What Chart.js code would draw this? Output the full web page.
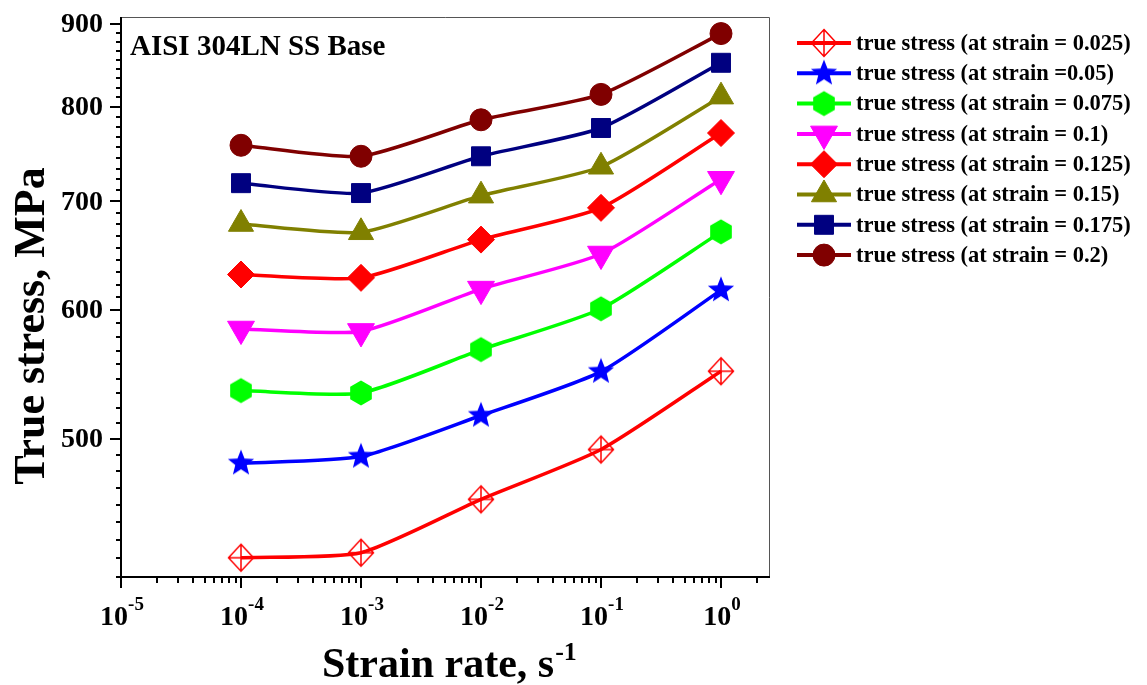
<!DOCTYPE html>
<html lang="en">
<head>
  <meta charset="UTF-8" />
  <title>True stress vs strain rate - AISI 304LN SS Base</title>
  <script src="https://cdn.jsdelivr.net/npm/chart.js"></script>
  <style>
    html, body { margin: 0; padding: 0; background: #fff; }
    #stressChart { display: block; }
  </style>
</head>
<body>
  <canvas id="stressChart" width="1147" height="685"></canvas>

  <script>
    // strain rate (s^-1) for every series
    const strainRates = [1e-4, 1e-3, 1e-2, 1e-1, 1];

    // true stress (MPa), one array per strain level
    const stress025 = [422.5, 425.5, 458.9, 492.5, 550.3];
    const stress050 = [483.0, 487.6, 516.8, 550.0, 617.3];
    const stress075 = [535.4, 533.6, 567.4, 601.2, 670.4];
    const stress100 = [584.2, 582.2, 618.2, 649.7, 722.3];
    const stress125 = [631.1, 628.1, 663.1, 693.6, 771.2];
    const stress150 = [677.9, 670.0, 705.7, 735.2, 812.0];
    const stress175 = [718.3, 708.3, 746.2, 776.7, 851.9];
    const stress200 = [757.9, 746.2, 785.8, 814.6, 887.9];

    const seriesLabels = [
      "true stress (at strain = 0.025)",
      "true stress (at strain =0.05)",
      "true stress (at strain = 0.075)",
      "true stress (at strain = 0.1)",
      "true stress (at strain = 0.125)",
      "true stress (at strain = 0.15)",
      "true stress (at strain = 0.175)",
      "true stress (at strain = 0.2)"
    ];

    // axis ticks
    const yMajorTicks = [500, 600, 700, 800, 900];
    const xDecades = [-5, -4, -3, -2, -1, 0];

    const SERIF = '"Liberation Serif", "Times New Roman", serif';

    // --- custom marker images (Chart.js has no filled star / hexagon / crossed diamond) ---
    function makeMarker(size, draw) {
      const c = document.createElement("canvas");
      c.width = size;
      c.height = size;
      const g = c.getContext("2d");
      g.translate(size / 2, size / 2);
      draw(g);
      return c;
    }

    const starMarker = makeMarker(30, g => {
      const R = 13.8, r = 6.0;
      g.beginPath();
      for (let i = 0; i < 10; i++) {
        const a = -Math.PI / 2 + i * Math.PI / 5;
        const rad = i % 2 === 0 ? R : r;
        g.lineTo(Math.cos(a) * rad, Math.sin(a) * rad);
      }
      g.closePath();
      g.fillStyle = "#0000FF";
      g.fill();
    });

    const hexMarker = makeMarker(28, g => {
      const R = 12.5;
      g.beginPath();
      for (let i = 0; i < 6; i++) {
        const a = -Math.PI / 2 + i * Math.PI / 3;
        g.lineTo(Math.cos(a) * R, Math.sin(a) * R);
      }
      g.closePath();
      g.fillStyle = "#00FF00";
      g.fill();
    });

    const diamondCrossMarker = makeMarker(32, g => {
      const w = 12.5, h = 13.5;
      g.strokeStyle = "#FF0000";
      g.lineWidth = 1.5;
      g.beginPath();
      g.moveTo(0, -h); g.lineTo(w, 0); g.lineTo(0, h); g.lineTo(-w, 0);
      g.closePath();
      g.moveTo(0, -h); g.lineTo(0, h);
      g.moveTo(-w, 0); g.lineTo(w, 0);
      g.stroke();
    });

    function series(label, values, color, pointStyle, radius, rotation) {
      return {
        label: label,
        data: strainRates.map((r, i) => ({ x: r, y: values[i] })),
        borderColor: color,
        backgroundColor: color,
        borderWidth: 3.5,
        tension: 0.2,
        pointStyle: pointStyle,
        pointRadius: radius,
        pointHoverRadius: radius,
        pointRotation: rotation || 0,
        pointBorderWidth: 1,
        pointBackgroundColor: color,
        pointBorderColor: color
      };
    }

    const datasets = [
      series(seriesLabels[0], stress025, "#FF0000", diamondCrossMarker, 13),
      series(seriesLabels[1], stress050, "#0000FF", starMarker, 13),
      series(seriesLabels[2], stress075, "#00FF00", hexMarker, 12),
      series(seriesLabels[3], stress100, "#FF00FF", "triangle", 15.5, 180),
      series(seriesLabels[4], stress125, "#FF0000", "rectRot", 13.5),
      series(seriesLabels[5], stress150, "#808000", "triangle", 14.5),
      series(seriesLabels[6], stress175, "#000080", "rect", 13.4),
      series(seriesLabels[7], stress200, "#800000", "circle", 11)
    ];

    // axes, ticks, titles, inset text and legend in Origin style
    const originFrame = {
      id: "originFrame",
      afterDraw(chart) {
        const ctx = chart.ctx;
        const area = chart.chartArea;
        const xs = chart.scales.x;
        const ys = chart.scales.y;
        ctx.save();

        // top / right frame
        ctx.strokeStyle = "#555";
        ctx.lineWidth = 1;
        ctx.beginPath();
        ctx.moveTo(area.left, area.top + 0.5);
        ctx.lineTo(area.right + 0.5, area.top + 0.5);
        ctx.lineTo(area.right + 0.5, area.bottom);
        ctx.stroke();

        // left / bottom axes
        ctx.strokeStyle = "#000";
        ctx.lineWidth = 2;
        ctx.beginPath();
        ctx.moveTo(area.left, area.top);
        ctx.lineTo(area.left, area.bottom);
        ctx.lineTo(area.right + 1, area.bottom);
        ctx.stroke();

        // y ticks: majors every 100, 8 minors between
        ctx.beginPath();
        for (let h = 400; h <= 900; h += 100) {
          for (let j = 0; j < 9; j++) {
            const v = h + j * 100 / 9;
            if (v < ys.min || v > ys.max) continue;
            const py = Math.round(ys.getPixelForValue(v));
            const len = j === 0 ? 11 : 5;
            ctx.moveTo(area.left, py);
            ctx.lineTo(area.left - len, py);
          }
        }
        // x ticks: decades plus 2..9 minors
        for (const e of xDecades) {
          for (let m = 1; m <= 9; m++) {
            const v = m * Math.pow(10, e);
            if (v < xs.min || v > xs.max) continue;
            const px = Math.round(xs.getPixelForValue(v));
            const len = m === 1 ? 11 : 6;
            ctx.moveTo(px, area.bottom);
            ctx.lineTo(px, area.bottom + len);
          }
        }
        ctx.stroke();

        ctx.fillStyle = "#000";

        // y tick labels
        ctx.font = "bold 28px " + SERIF;
        ctx.textAlign = "right";
        ctx.textBaseline = "middle";
        yMajorTicks.forEach(v => {
          ctx.fillText(String(v), area.left - 18, ys.getPixelForValue(v) + 1);
        });

        // x tick labels: 10 with superscript exponent
        ctx.textBaseline = "alphabetic";
        ctx.textAlign = "left";
        xDecades.forEach(e => {
          const px = xs.getPixelForValue(Math.pow(10, e));
          ctx.font = "bold 28px " + SERIF;
          const wBase = ctx.measureText("10").width;
          ctx.font = "bold 19px " + SERIF;
          const wExp = ctx.measureText(String(e)).width;
          const x0 = px - (wBase + wExp) / 2 + 1;
          ctx.font = "bold 28px " + SERIF;
          ctx.fillText("10", x0, area.bottom + 48);
          ctx.font = "bold 19px " + SERIF;
          ctx.fillText(String(e), x0 + wBase, area.bottom + 33);
        });

        // x title
        ctx.font = "bold 42px " + SERIF;
        const xt = "Strain rate, s";
        const xtw = ctx.measureText(xt).width;
        const xtStart = 322;
        ctx.fillText(xt, xtStart, 677);
        ctx.font = "bold 26px " + SERIF;
        ctx.fillText("-1", xtStart + xtw + 1, 660);

        // y title
        ctx.save();
        ctx.translate(44, 326);
        ctx.rotate(-Math.PI / 2);
        ctx.font = "bold 44px " + SERIF;
        ctx.textAlign = "center";
        ctx.fillText("True stress, MPa", 0, 0);
        ctx.restore();

        // inset label
        ctx.font = "bold 29px " + SERIF;
        ctx.textAlign = "left";
        ctx.fillText("AISI 304LN SS Base", area.left + 9, 55);

        // legend: line + marker + text
        ctx.textBaseline = "middle";
        ctx.font = "bold 22.5px " + SERIF;
        chart.data.datasets.forEach((ds, i) => {
          const y = 43 + i * 30.3;
          ctx.strokeStyle = ds.borderColor;
          ctx.fillStyle = ds.backgroundColor;
          ctx.lineWidth = 4;
          ctx.beginPath();
          ctx.moveTo(797, y);
          ctx.lineTo(851, y);
          ctx.stroke();
          ctx.lineWidth = 1;
          Chart.helpers.drawPoint(ctx, {
            pointStyle: ds.pointStyle,
            rotation: ds.pointRotation,
            radius: ds.pointRadius,
            borderWidth: 1
          }, 824, y);
          ctx.fillStyle = "#000";
          ctx.fillText(ds.label, 856, y + 1);
        });

        ctx.restore();
      }
    };

    new Chart(document.getElementById("stressChart"), {
      type: "line",
      data: { datasets: datasets },
      options: {
        responsive: false,
        animation: false,
        layout: { padding: { left: 121, top: 17, right: 378, bottom: 108 } },
        scales: {
          x: { type: "logarithmic", min: 1e-5, max: Math.pow(10, 0.4), display: false },
          y: { type: "logarithmic", min: 411.1, max: 909, display: false }
        },
        plugins: {
          legend: { display: false },
          tooltip: { enabled: false }
        }
      },
      plugins: [originFrame]
    });
  </script>
</body>
</html>
